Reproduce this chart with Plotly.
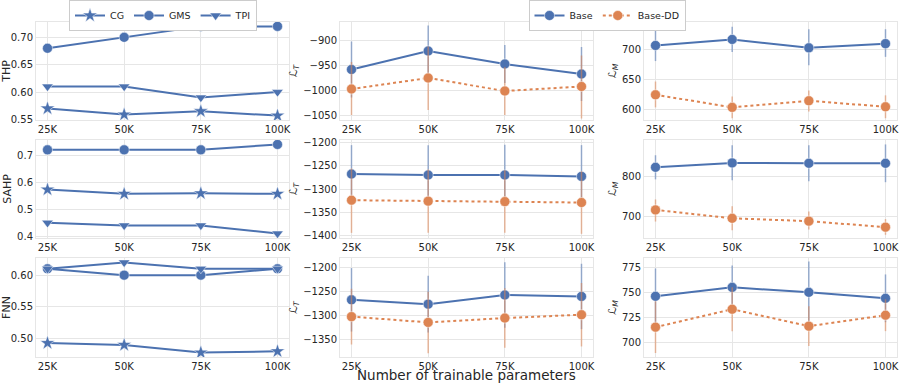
import plotly.graph_objects as go

# x categories shared by every panel
params = ["25K", "50K", "75K", "100K"]

# left column: accuracy per model, one row per dataset
thp_cg = [0.570, 0.559, 0.565, 0.557]
thp_gms = [0.680, 0.700, 0.720, 0.720]
thp_tpi = [0.610, 0.610, 0.590, 0.600]

sahp_cg = [0.573, 0.557, 0.559, 0.557]
sahp_gms = [0.720, 0.720, 0.720, 0.740]
sahp_tpi = [0.450, 0.440, 0.440, 0.410]

fnn_cg = [0.493, 0.490, 0.478, 0.480]
fnn_gms = [0.610, 0.600, 0.600, 0.610]
fnn_tpi = [0.610, 0.620, 0.610, 0.610]

# middle column: L_T (mean, upper, lower) for Base and Base-DD
thp_lt_base = [-959, -922, -948, -968]
thp_lt_base_hi = [-903, -871, -910, -914]
thp_lt_base_lo = [-1015, -973, -986, -1022]
thp_lt_dd = [-998, -976, -1002, -993]
thp_lt_dd_hi = [-944, -913, -954, -931]
thp_lt_dd_lo = [-1050, -1040, -1050, -1057]

sahp_lt_base = [-1268, -1270, -1270, -1273]
sahp_lt_base_hi = [-1206, -1206, -1205, -1206]
sahp_lt_base_lo = [-1330, -1334, -1335, -1340]
sahp_lt_dd = [-1324, -1326, -1327, -1329]
sahp_lt_dd_hi = [-1256, -1258, -1260, -1262]
sahp_lt_dd_lo = [-1394, -1394, -1394, -1396]

fnn_lt_base = [-1267, -1276, -1257, -1260]
fnn_lt_base_hi = [-1201, -1217, -1189, -1192]
fnn_lt_base_lo = [-1333, -1335, -1325, -1328]
fnn_lt_dd = [-1302, -1314, -1305, -1298]
fnn_lt_dd_hi = [-1244, -1250, -1243, -1232]
fnn_lt_dd_lo = [-1360, -1378, -1367, -1364]

# right column: L_M (mean, upper, lower)
thp_lm_base = [707, 717, 703, 710]
thp_lm_base_hi = [733, 738, 734, 734]
thp_lm_base_lo = [681, 696, 674, 688]
thp_lm_dd = [625, 604, 615, 605]
thp_lm_dd_hi = [647, 622, 632, 624]
thp_lm_dd_lo = [604, 586, 597, 586]

sahp_lm_base = [822, 833, 832, 832]
sahp_lm_base_hi = [852, 877, 877, 879]
sahp_lm_base_lo = [792, 790, 787, 785]
sahp_lm_dd = [716, 695, 688, 673]
sahp_lm_dd_hi = [742, 725, 712, 693]
sahp_lm_dd_lo = [687, 665, 667, 654]

fnn_lm_base = [746, 755, 750, 744]
fnn_lm_base_hi = [774, 777, 781, 768]
fnn_lm_base_lo = [718, 733, 719, 720]
fnn_lm_dd = [715, 733, 716, 727]
fnn_lm_dd_hi = [741, 755, 736, 743]
fnn_lm_dd_lo = [689, 711, 696, 711]

BLUE = "#4C72B0"
ORANGE = "#DD8452"
GRID = "#e6e6e6"
TXT = "#262626"

fig = go.Figure()

xdom = [[36/900, 289/900], [340/900, 593/900], [644/900, 897/900]]
ydom = [[1-120/386, 1-22/386], [1-238/386, 1-140/386], [1-357/386, 1-258/386]]

def ax_id(r, c):
	n = r*3 + c + 1
	return ("x" if n == 1 else f"x{n}"), ("y" if n == 1 else f"y{n}")

def left_traces(r, cg, gms, tpi):
	xa, ya = ax_id(r, 0)
	first = r == 0
	for name, vals, sym, sz in [("CG", cg, "star", 11), ("GMS", gms, "circle", 10), ("TPI", tpi, "triangle-down", 10)]:
		fig.add_trace(go.Scatter(
			x=params, y=vals, name=name, mode="lines+markers",
			line=dict(color=BLUE, width=2),
			marker=dict(symbol=sym, size=sz, color=BLUE, line=dict(color="white", width=0.5)),
			xaxis=xa, yaxis=ya, legend="legend", showlegend=first,
		))

def err_traces(r, c, base, base_hi, base_lo, dd, dd_hi, dd_lo):
	xa, ya = ax_id(r, c)
	first = r == 0 and c == 1
	for name, m, hi, lo, col, rgba, dash in [
		("Base", base, base_hi, base_lo, BLUE, "rgba(76,114,176,0.55)", "solid"),
		("Base-DD", dd, dd_hi, dd_lo, ORANGE, "rgba(221,132,82,0.55)", "dot"),
	]:
		fig.add_trace(go.Scatter(
			x=params, y=m, name=name, mode="lines+markers",
			line=dict(color=col, width=2, dash=dash),
			marker=dict(symbol="circle", size=10, color=col, line=dict(color="white", width=0.5)),
			error_y=dict(type="data", symmetric=False,
				array=[h - v for h, v in zip(hi, m)],
				arrayminus=[v - l for l, v in zip(lo, m)],
				color=rgba, thickness=1.5, width=0),
			xaxis=xa, yaxis=ya, legend="legend2", showlegend=first,
		))

left_traces(0, thp_cg, thp_gms, thp_tpi)
left_traces(1, sahp_cg, sahp_gms, sahp_tpi)
left_traces(2, fnn_cg, fnn_gms, fnn_tpi)

err_traces(0, 1, thp_lt_base, thp_lt_base_hi, thp_lt_base_lo, thp_lt_dd, thp_lt_dd_hi, thp_lt_dd_lo)
err_traces(1, 1, sahp_lt_base, sahp_lt_base_hi, sahp_lt_base_lo, sahp_lt_dd, sahp_lt_dd_hi, sahp_lt_dd_lo)
err_traces(2, 1, fnn_lt_base, fnn_lt_base_hi, fnn_lt_base_lo, fnn_lt_dd, fnn_lt_dd_hi, fnn_lt_dd_lo)
err_traces(0, 2, thp_lm_base, thp_lm_base_hi, thp_lm_base_lo, thp_lm_dd, thp_lm_dd_hi, thp_lm_dd_lo)
err_traces(1, 2, sahp_lm_base, sahp_lm_base_hi, sahp_lm_base_lo, sahp_lm_dd, sahp_lm_dd_hi, sahp_lm_dd_lo)
err_traces(2, 2, fnn_lm_base, fnn_lm_base_hi, fnn_lm_base_lo, fnn_lm_dd, fnn_lm_dd_hi, fnn_lm_dd_lo)

LT = "<i>ℒ</i><sub><i>T</i></sub>"
LM = "<i>ℒ</i><sub><i>M</i></sub>"

# (title, range, dtick, tickformat) per panel, row-major
yspec = [
	("THP", [0.549, 0.728], 0.05, ".2f"), (LT, [-1060, -864], 50, "d"), (LM, [583, 746], 50, "d"),
	("SAHP", [0.3935, 0.7565], 0.1, ".1f"), (LT, [-1405, -1195], 50, "d"), (LM, [646, 890], 100, "d"),
	("FNN", [0.471, 0.627], 0.05, ".2f"), (LT, [-1386, -1180], 50, "d"), (LM, [685, 784.5], 25, "d"),
]

layout = {}
for r in range(3):
	for c in range(3):
		n = r*3 + c + 1
		xk = "xaxis" if n == 1 else f"xaxis{n}"
		yk = "yaxis" if n == 1 else f"yaxis{n}"
		xa, ya = ax_id(r, c)
		title, rng, dt, fmt = yspec[n-1]
		layout[xk] = dict(
			domain=xdom[c], anchor=ya, type="category", range=[-0.15, 3.15],
			showgrid=True, gridcolor=GRID, gridwidth=1,
			showline=True, linecolor=GRID, mirror=True, ticks="", automargin=False,
			tickfont=dict(size=10, color=TXT), zeroline=False,
		)
		layout[yk] = dict(
			domain=ydom[r], anchor=xa, range=rng, dtick=dt, tickformat=fmt,
			showgrid=True, gridcolor=GRID, gridwidth=1,
			showline=True, linecolor=GRID, mirror=True, ticks="", automargin=False,
			tickfont=dict(size=10, color=TXT), zeroline=False,
			title=dict(text=title, font=dict(size=11, color=TXT), standoff=3),
		)

fig.update_layout(**layout)
fig.update_layout(
	width=900, height=386,
	margin=dict(l=0, r=0, t=0, b=0, autoexpand=False),
	paper_bgcolor="white", plot_bgcolor="white",
	font=dict(family="DejaVu Sans", color=TXT),
	legend=dict(orientation="h", x=163/900, y=1.0, xanchor="center", yanchor="top",
		bordercolor="#cccccc", borderwidth=1, font=dict(size=9.5), bgcolor="white"),
	legend2=dict(orientation="h", x=607/900, y=1.0, xanchor="center", yanchor="top",
		bordercolor="#cccccc", borderwidth=1, font=dict(size=9.5), bgcolor="white"),
	annotations=[dict(text="Number of trainable parameters", x=466/900, y=1-385/386,
		xref="paper", yref="paper", showarrow=False, font=dict(size=13.5, color=TXT),
		xanchor="center", yanchor="bottom")],
)

# page body has a default 8px margin; drop it so the figure sits at the corner
fig.write_html("out.html", config={"displayModeBar": False},
	post_script="document.body.style.margin='0';")
